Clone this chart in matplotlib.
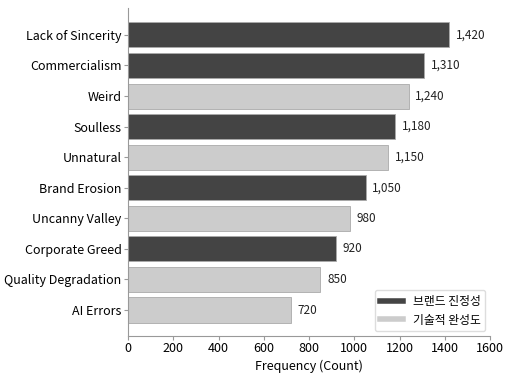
import matplotlib
matplotlib.use("Agg")
import matplotlib.pyplot as plt
from matplotlib.lines import Line2D

plt.rcParams['font.family'] = ['Noto Sans CJK KR', 'DejaVu Sans']

categories = ["Lack of Sincerity", "Commercialism", "Weird", "Soulless", "Unnatural",
              "Brand Erosion", "Uncanny Valley", "Corporate Greed", "Quality Degradation", "AI Errors"]
counts = [1420, 1310, 1240, 1180, 1150, 1050, 980, 920, 850, 720]
groups = ["brand", "brand", "tech", "brand", "tech", "brand", "tech", "brand", "tech", "tech"]
legend_labels = {"brand": "브랜드 진정성", "tech": "기술적 완성도"}

colors = {"brand": "#444444", "tech": "#cccccc"}

fig = plt.figure(figsize=(5.07, 3.74), dpi=100)
ax = fig.add_axes([128 / 507, 1 - 336 / 374, (490 - 128) / 507, (336 - 8) / 374])

ypos = list(range(len(categories)))
ax.barh(ypos, counts, height=0.82, color=[colors[g] for g in groups],
        edgecolor="#aaaaaa", linewidth=0.6)

# value labels right of each bar
for y, v in zip(ypos, counts):
    ax.text(v + 30, y, f"{v:,}", va="center", ha="left", fontsize=8.5, color="#222222")

ax.set_yticks(ypos)
ax.set_yticklabels(categories, fontsize=9)
ax.set_ylim(9.85, -0.88)
ax.set_xlim(0, 1600)
ax.set_xticks(range(0, 1601, 200))
ax.tick_params(axis="x", labelsize=9, pad=1.5, length=3)
ax.tick_params(axis="y", pad=1.5, length=3)
ax.set_xlabel("Frequency (Count)", fontsize=9, labelpad=3)

for s in ["top", "right"]:
    ax.spines[s].set_visible(False)
for s in ["left", "bottom"]:
    ax.spines[s].set_color("#999999")
ax.tick_params(color="#999999")

handles = [Line2D([0], [0], color=colors[k], lw=4) for k in ["brand", "tech"]]
ax.legend(handles, [legend_labels[k] for k in ["brand", "tech"]], loc="lower right",
          fontsize=8.5, framealpha=1, edgecolor="#dddddd", handlelength=2.0,
          borderaxespad=0.4)

fig.savefig("out.png", dpi=100)
